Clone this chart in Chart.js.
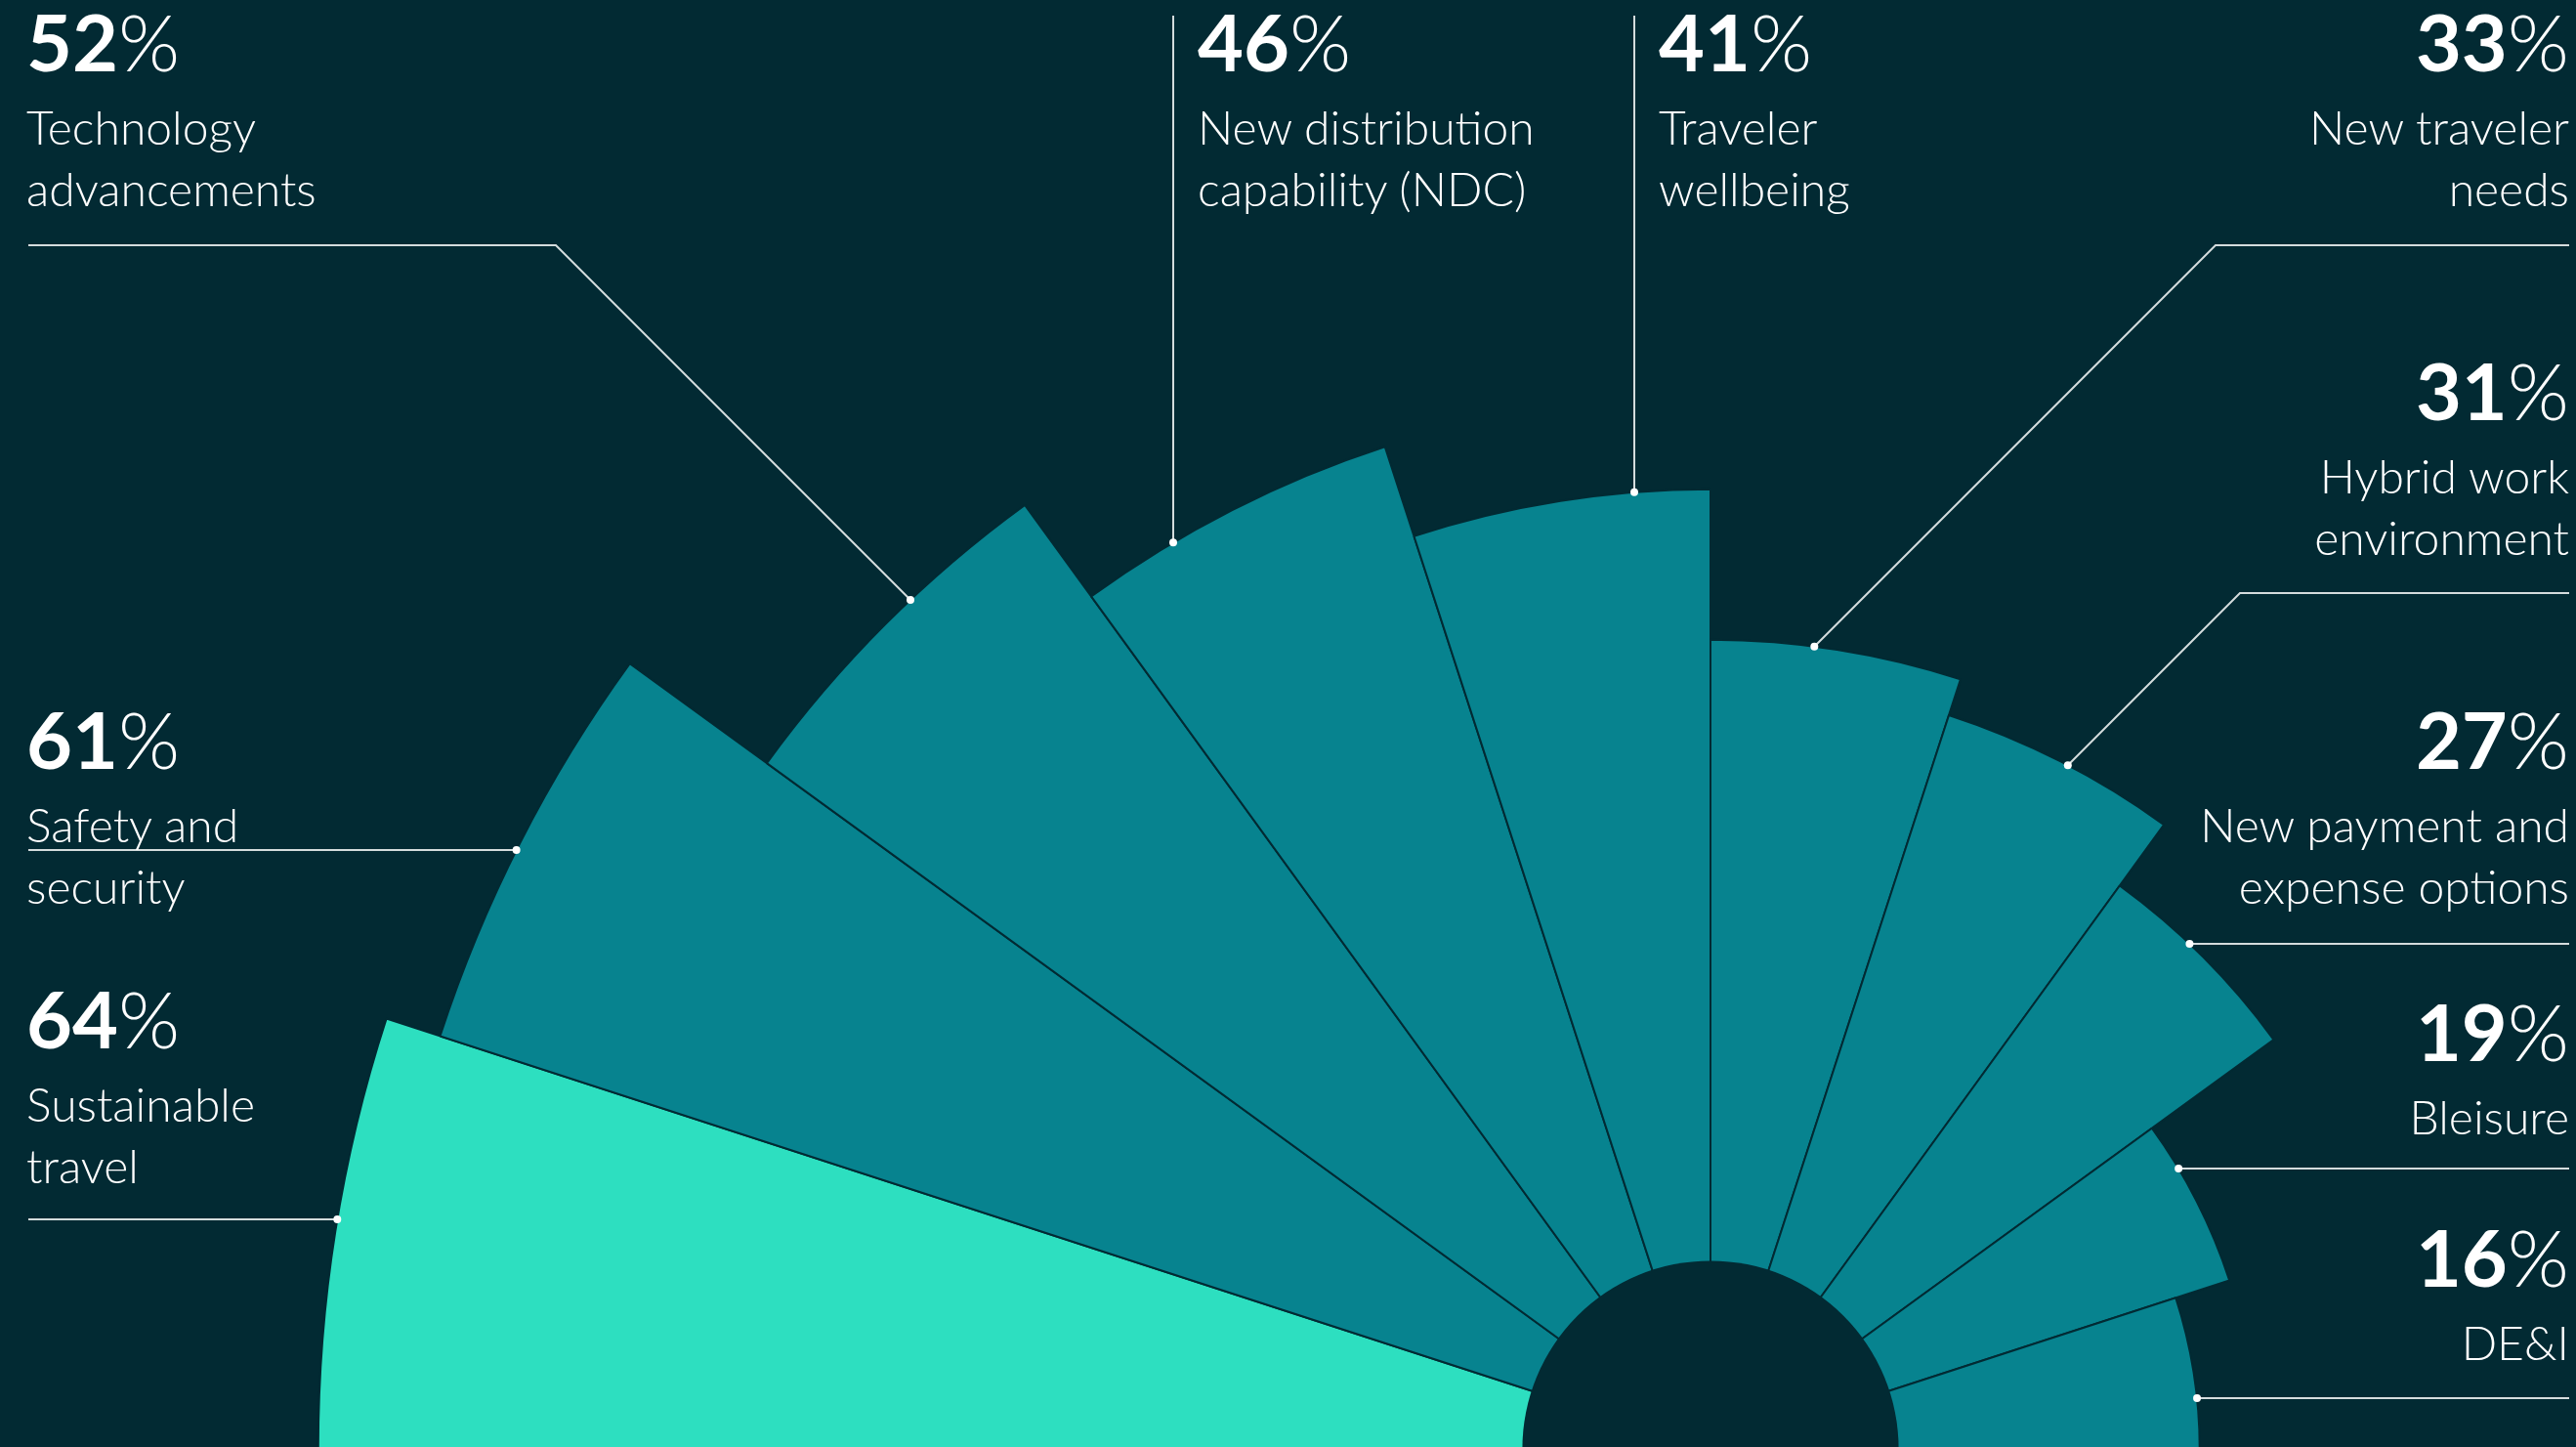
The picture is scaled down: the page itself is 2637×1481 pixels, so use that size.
<!DOCTYPE html>
<html>
<head>
<meta charset="utf-8">
<script src="https://cdn.jsdelivr.net/npm/chart.js@4.4.0/dist/chart.umd.min.js"></script>
<style>
  html, body { margin: 0; padding: 0; background: #022a33; }
  #wrap { position: relative; width: 2637px; height: 1481px; overflow: hidden; background: #022a33;
          font-family: Lato, 'Open Sans', sans-serif; color: #fff; }
  #polar { position: absolute; left: 0; top: 0; width: 3502px; height: 2966px; }
  .ln { position: absolute; white-space: nowrap; line-height: 1; }
  .pct { font-size: 81px; font-weight: 700; }
  .pct span { font-weight: 300; }
  .lbl { font-size: 48px; font-weight: 300; }
</style>
</head>
<body>
<div id="wrap">
  <canvas id="polar" width="3502" height="2966"></canvas>
</div>
<script>
// data, clockwise from the left
const categories = [
    ['Sustainable', 'travel'],
    ['Safety and', 'security'],
    ['Technology', 'advancements'],
    ['New distribution', 'capability (NDC)'],
    ['Traveler', 'wellbeing'],
    ['New traveler', 'needs'],
    ['Hybrid work', 'environment'],
    ['New payment and', 'expense options'],
    ['Bleisure'],
    ['DE&I']
];
const values = [64, 61, 52, 46, 41, 33, 31, 27, 19, 16];

const BG = '#022a33';
const TEAL = '#07838f';
const BRIGHT = '#2ddfc0';
const LINE = 'rgba(235,240,240,0.9)';

// label blocks: anchor x, alignment, baseline of the percent line
const blocks = [
    { x: 27, align: 'left', base: 1073 },
    { x: 27, align: 'left', base: 787 },
    { x: 27, align: 'left', base: 73 },
    { x: 1226, align: 'left', base: 73 },
    { x: 1698, align: 'left', base: 73 },
    { x: 2630, align: 'right', base: 73 },
    { x: 2630, align: 'right', base: 430 },
    { x: 2630, align: 'right', base: 787 },
    { x: 2630, align: 'right', base: 1086 },
    { x: 2630, align: 'right', base: 1317 }
];

// leader lines from each label to its slice
const leaders = [
    { kind: 'h', side: 'left', x: 29, y: 1248 },
    { kind: 'h', side: 'left', x: 29, y: 870 },
    { kind: 'd', side: 'left', x: 29, ex: 569, ey: 251 },
    { kind: 'v', x: 1201, y: 16 },
    { kind: 'v', x: 1673, y: 16 },
    { kind: 'd', side: 'right', x: 2630, ex: 2268, ey: 251 },
    { kind: 'd', side: 'right', x: 2630, ex: 2293, ey: 607 },
    { kind: 'h', side: 'right', x: 2630, y: 966 },
    { kind: 'h', side: 'right', x: 2630, y: 1196 },
    { kind: 'h', side: 'right', x: 2630, y: 1431 }
];

// text as html, baseline placed for Lato metrics
const wrap = document.getElementById('wrap');
function addLine(html, cls, fs, b, blk) {
    const d = document.createElement('div');
    d.className = 'ln ' + cls;
    d.innerHTML = html;
    d.style.top = (b - 0.887 * fs) + 'px';
    if (blk.align === 'left') d.style.left = blk.x + 'px';
    else { d.style.right = (2637 - blk.x) + 'px'; d.style.textAlign = 'right'; }
    wrap.appendChild(d);
}
const esc = s => s.replace(/&/g, '&amp;');
categories.forEach((lines, i) => {
    const blk = blocks[i];
    addLine(values[i] + '<span>%</span>', 'pct', 81, blk.base, blk);
    lines.forEach((t, j) => addLine(esc(t), 'lbl', 48, blk.base + 76 + j * 63, blk));
});

const overlay = {
    id: 'overlay',
    afterDatasetsDraw(chart) {
        const scale = chart.scales.r;
        const cx = scale.xCenter, cy = scale.yCenter;
        const ctx = chart.ctx;
        ctx.save();
        // hollow centre
        ctx.fillStyle = BG;
        ctx.beginPath();
        ctx.arc(cx, cy, scale.getDistanceFromCenterForValue(0), 0, Math.PI * 2);
        ctx.fill();

        ctx.strokeStyle = LINE;
        ctx.fillStyle = '#ffffff';
        ctx.lineWidth = 2;
        chart.getDatasetMeta(0).data.forEach((arc, i) => {
            const R = arc.outerRadius;
            const L = leaders[i];
            let pts;
            if (L.kind === 'h') {
                const dx = Math.sqrt(R * R - (cy - L.y) ** 2);
                pts = [[L.x, L.y], [L.side === 'left' ? cx - dx : cx + dx, L.y]];
            } else if (L.kind === 'v') {
                pts = [[L.x, L.y], [L.x, cy - Math.sqrt(R * R - (L.x - cx) ** 2)]];
            } else {
                const sx = L.side === 'left' ? 1 : -1;
                const ax = L.ex - cx, ay = L.ey - cy;
                const b = sx * ax + ay;
                const c = ax * ax + ay * ay - R * R;
                const t = (-2 * b - Math.sqrt(4 * b * b - 8 * c)) / 4;
                pts = [[L.x, L.ey], [L.ex, L.ey], [L.ex + sx * t, L.ey + t]];
            }
            ctx.beginPath();
            pts.forEach((p, k) => k ? ctx.lineTo(p[0], p[1]) : ctx.moveTo(p[0], p[1]));
            ctx.stroke();
            const end = pts[pts.length - 1];
            ctx.beginPath();
            ctx.arc(end[0], end[1], 4, 0, Math.PI * 2);
            ctx.fill();
        });
        ctx.restore();
    }
};

const ctx = document.getElementById('polar').getContext('2d');
const polarChart = new Chart(ctx, {
    type: 'polarArea',
    data: {
        labels: categories.map(c => c.join(' ')),
        datasets: [{
            data: values,
            angle: 180 / values.length,
            backgroundColor: values.map((v, i) => i === 0 ? BRIGHT : TEAL),
            borderColor: BG,
            borderWidth: 2
        }]
    },
    options: {
        responsive: false,
        animation: false,
        events: [],
        layout: { padding: 0 },
        plugins: { legend: { display: false }, tooltip: { enabled: false } },
        scales: {
            r: {
                min: -10,
                max: 67,
                startAngle: 270,
                ticks: { display: false },
                grid: { display: false },
                angleLines: { display: false },
                pointLabels: { display: false }
            }
        }
    },
    plugins: [overlay]
});
</script>
</body>
</html>
